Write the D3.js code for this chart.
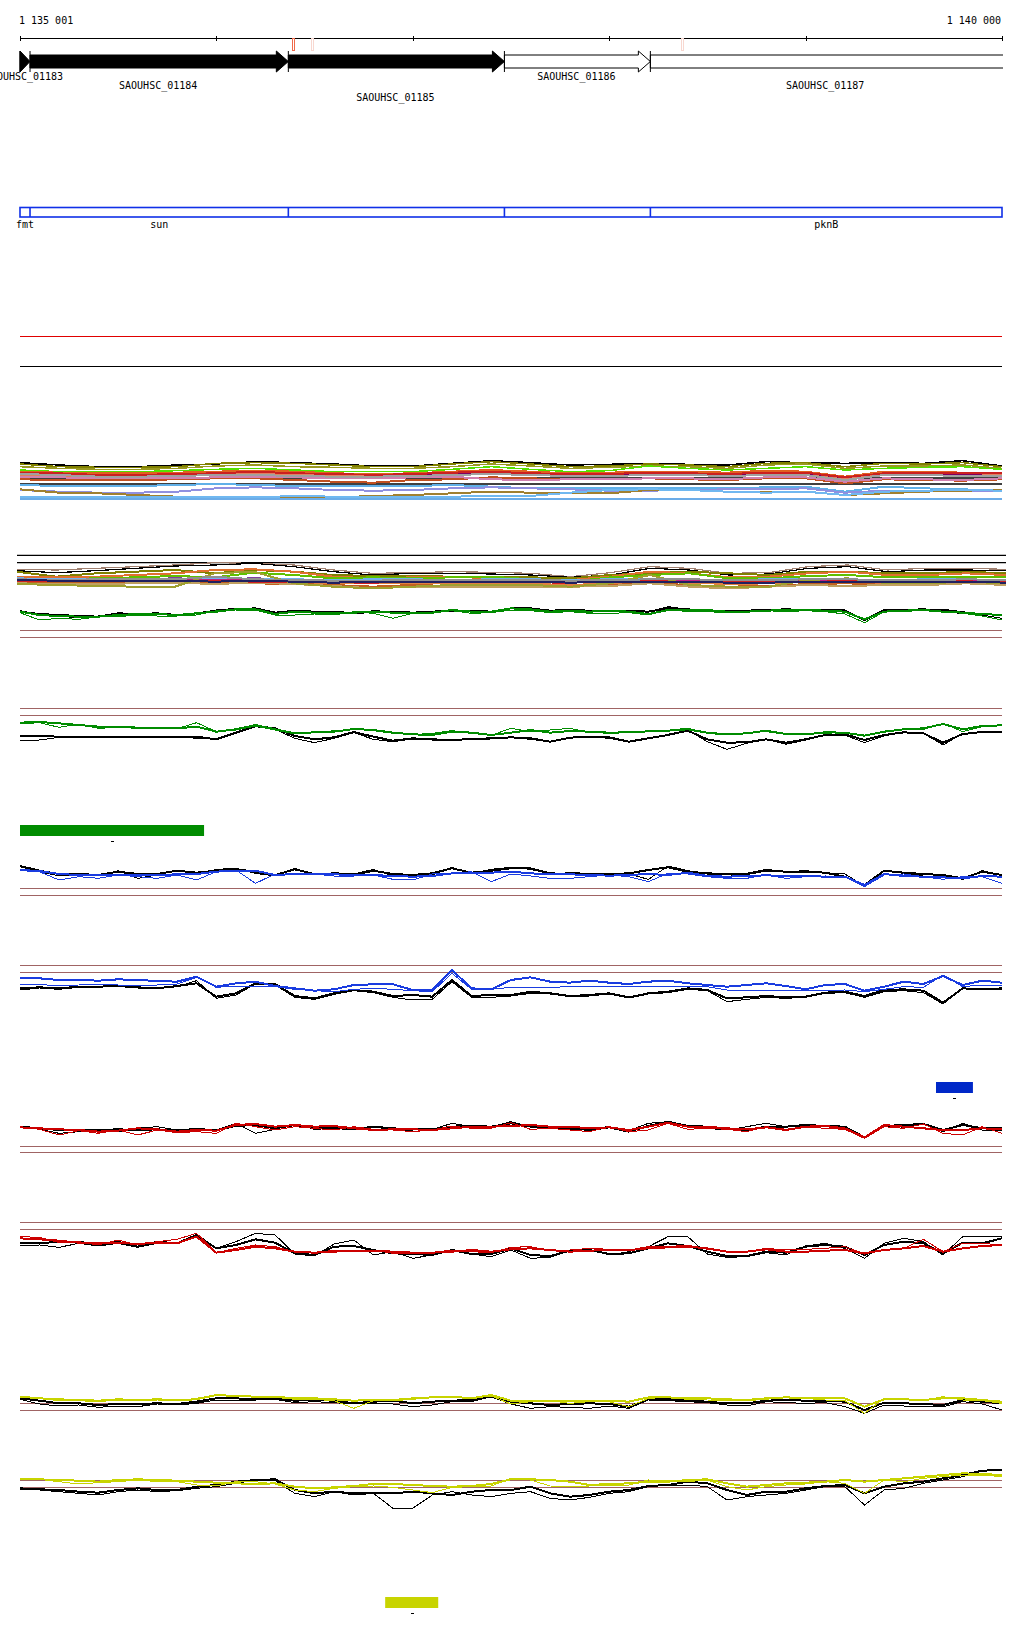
<!DOCTYPE html>
<html>
  <head>
    <meta charset="utf-8">
    <title>Genome browser</title>
    <style>
      body { margin: 0; background: #fff; }
      text { font-family: "DejaVu Sans Mono", monospace; font-size: 10px; fill: #000; }
    </style>
  </head>
  <body>
    <div id="browser"></div>
    <script src="https://d3js.org/d3.v7.min.js"></script>
    <script>

      // region shown
      var regionStart = 1135001,
          regionEnd   = 1140000;

      // genes
      var geneIds    = ["SAOUHSC_01183", "SAOUHSC_01184", "SAOUHSC_01185", "SAOUHSC_01186", "SAOUHSC_01187"];
      var geneNames  = ["fmt", "sun", "", "", "pknB"];
      var geneStart  = [1135001, 1135052, 1136367, 1137467, 1138210];
      var geneEnd    = [1135052, 1136367, 1137467, 1138210, 1141000];
      var geneFilled = [true, true, true, false, false];

      // small variant marks under the ruler
      var markPos    = [1136386, 1136483, 1138366];
      var markColor  = ["#f06a4a", "#f8d8d0", "#f8d8d0"];

      // sample positions (bp)
      var pos100 = d3.range(regionStart - 1, regionEnd + 1, 100);
      var pos200 = d3.range(regionStart - 1, regionEnd + 1, 200);

      // ---- band track A (many samples, every 200 bp)
      var bandAColors = ["#000000", "#808000", "#9a9a20", "#55e000", "#e06020", "#800060", "#cc2020", "#e08060",
                         "#c05020", "#d080b0", "#a0a0a0", "#60b0e8", "#9090e0", "#a08030", "#70b8f0"];
      var bandAValues = [
        [428,435,440,440,435,432,425,428,432,438,438,430,422,428,435,433,430,433,435,425,428,430,428,430,422,438],
        [432,440,442,442,440,430,428,430,435,440,440,432,425,432,440,438,432,435,440,430,428,440,430,432,428,440],
        [440,445,448,448,445,438,435,440,442,445,445,440,432,438,445,442,438,440,445,435,432,445,438,438,435,445],
        [450,455,455,455,452,448,445,450,455,455,455,448,440,448,455,452,438,445,450,445,440,450,445,442,440,448],
        [455,458,460,460,458,455,452,455,460,462,460,455,450,455,460,458,455,455,458,452,455,470,455,455,458,458],
        [460,462,468,470,468,462,460,465,468,470,465,462,458,462,465,465,462,462,465,460,462,475,462,462,465,462],
        [458,460,465,465,462,460,455,460,462,465,462,458,455,460,462,462,458,460,462,458,458,472,460,458,460,460],
        [465,468,470,470,468,465,462,465,468,470,468,465,462,465,468,468,465,465,468,465,465,478,465,465,468,465],
        [478,480,480,480,478,475,475,480,485,488,480,478,472,475,478,478,475,478,480,475,475,490,478,480,482,478],
        [470,472,475,475,475,472,470,472,475,475,472,470,478,480,478,478,475,475,478,472,472,485,475,478,480,475],
        [462,465,470,470,468,465,465,468,470,470,468,465,462,465,468,468,465,465,468,465,465,480,465,465,468,468],
        [495,498,498,498,495,492,495,498,498,498,498,495,500,505,505,505,505,505,505,502,500,515,500,505,508,512],
        [510,515,518,518,515,505,502,505,510,512,510,505,502,505,508,512,512,510,508,508,505,518,512,515,512,512],
        [508,518,520,525,530,532,530,530,532,528,525,520,515,518,518,520,510,510,515,515,515,525,520,515,512,510],
        [530,532,532,530,532,530,532,528,530,530,530,530,528,528,518,510,508,510,515,518,515,525,515,512,510,512]
      ];
      var bandAFlat = [474, 492, 537];

      // ---- band track B
      var bandBColors = ["#a08070", "#000000", "#808000", "#e07030", "#60c000", "#8040a0", "#70b0f0", "#e08040",
                         "#c06020", "#c0a060", "#c02080", "#d02020", "#a0a030", "#909090", "#202060"];
      var bandBValues = [
        [88,90,85,80,75,68,70,75,90,100,98,95,97,100,110,98,80,85,100,98,80,75,90,85,85,88],
        [92,98,92,85,78,75,70,80,95,105,100,100,102,105,112,105,85,90,105,102,85,80,95,90,90,92],
        [95,110,100,95,90,100,90,95,105,108,108,110,110,112,115,105,100,95,100,105,95,95,100,100,95,100],
        [110,112,110,105,100,90,88,95,110,115,112,110,115,118,120,110,95,100,112,110,100,95,105,105,100,105],
        [115,118,115,112,108,112,98,105,115,112,115,112,110,118,125,112,105,100,115,115,108,105,112,110,112,112],
        [118,120,120,118,115,118,115,118,120,122,120,120,122,122,125,120,118,118,122,120,118,118,120,118,120,122],
        [115,118,118,118,118,115,118,118,120,118,118,120,118,118,120,118,118,118,120,118,118,118,120,118,118,120],
        [125,128,128,125,120,125,125,128,130,130,128,130,130,132,135,130,125,128,132,130,125,128,130,128,125,128],
        [128,130,130,128,125,128,130,132,135,140,135,138,138,140,140,135,130,135,140,138,132,130,135,130,128,130],
        [130,132,132,130,128,132,128,132,138,145,140,140,142,142,140,138,130,140,145,140,135,138,135,135,130,135],
        [120,122,122,122,120,120,122,122,125,125,122,122,125,125,125,122,122,122,125,125,122,122,122,122,122,125],
        [122,124,124,124,122,122,125,125,127,128,125,125,127,127,128,125,124,125,127,127,125,124,125,125,124,127],
        [132,135,138,140,140,100,95,130,140,145,140,135,135,135,140,130,105,135,140,140,120,115,130,130,125,130],
        [118,120,118,118,118,110,118,120,122,122,120,120,120,120,122,120,118,118,120,120,118,118,120,120,118,120],
        [120,122,122,122,122,125,122,125,128,125,125,125,125,125,128,125,125,125,128,128,125,125,125,125,125,128]
      ];
      var bandBFlat = [46, 68];

      // ---- paired tracks (every 100 bp): colour thick / thin, black thick / thin
      var bGreen1 = [215,225,228,230,230,225,222,222,225,220,215,208,208,222,215,218,220,218,215,218,220,218,210,215,215,205,208,215,212,215,212,215,222,210,210,210,215,215,212,210,210,212,215,238,215,212,210,215,218,222,225];
      var bGreen2 = [218,240,235,238,230,230,225,228,228,225,212,210,210,225,225,222,225,215,220,235,220,218,212,220,218,210,212,218,215,220,220,218,225,208,215,215,218,215,212,215,212,215,222,248,215,215,210,215,220,228,240];
      var bBlack1 = [215,222,225,228,230,220,222,220,225,220,212,208,205,218,212,215,215,220,215,215,218,215,212,212,215,205,205,212,210,212,212,212,215,205,208,212,212,212,210,208,210,210,212,240,210,210,208,212,220,222,225];
      var bBlack2 = [212,225,230,232,228,222,220,222,228,220,210,205,205,218,210,215,218,220,212,215,218,215,212,212,218,205,205,212,208,212,212,212,215,200,208,210,212,210,210,208,210,208,210,242,210,210,208,208,215,225,235];

      var cGreen1 = [68,66,70,75,80,80,83,85,85,80,95,88,75,88,100,97,95,87,90,98,103,105,95,98,105,98,90,98,93,95,98,97,94,92,88,98,103,100,92,102,103,97,98,107,95,88,85,72,88,78,76];
      var cGreen2 = [72,68,82,72,85,82,85,86,86,68,95,90,78,90,102,98,92,88,92,100,104,100,92,100,106,85,95,90,85,97,100,98,95,92,84,100,105,98,95,103,103,100,97,106,97,86,88,70,95,80,76];
      var cBlack1 = [108,108,110,110,112,110,111,112,110,110,118,98,78,85,108,118,112,96,110,122,115,118,120,117,115,112,115,125,113,110,112,125,115,105,92,118,128,127,118,128,118,105,103,120,105,97,100,128,102,96,96];
      var cBlack2 = [123,120,112,112,112,112,112,112,110,115,118,100,80,88,115,128,115,98,118,125,117,120,120,118,117,112,118,125,113,110,115,126,115,103,90,125,148,130,118,133,120,105,105,128,108,97,100,135,100,98,98];

      var dBlue1  = [60,63,72,75,75,75,75,75,73,72,65,62,62,75,72,72,73,75,75,78,80,78,70,68,68,65,70,73,73,75,77,75,72,75,68,78,80,78,76,78,78,80,80,105,72,78,80,82,85,78,80];
      var dBlue2  = [62,65,90,80,85,75,80,85,75,90,65,60,100,72,75,72,78,78,75,88,90,72,70,65,95,72,78,85,85,80,75,80,95,70,72,80,85,85,75,85,80,78,80,110,75,72,80,88,80,80,100];
      var dBlack1 = [48,62,72,72,75,65,72,72,62,68,62,58,65,75,58,72,72,75,62,72,75,70,55,68,62,55,55,70,72,72,72,70,60,52,65,70,72,72,62,65,65,68,80,105,62,68,72,75,85,65,75];
      var dBlack2 = [50,65,78,72,78,62,85,75,60,75,58,55,70,78,55,75,68,72,58,78,82,75,52,72,58,52,58,72,68,70,75,72,88,48,62,72,80,70,58,65,62,68,72,108,62,70,78,78,88,62,75];

      var eBlue1  = [55,55,60,60,62,58,60,63,65,50,80,70,65,78,85,92,88,75,73,73,90,90,30,85,88,60,52,65,68,62,68,72,65,62,70,75,80,75,70,78,88,75,72,92,80,65,72,48,75,62,68];
      var eBlue2  = [73,73,78,75,73,75,75,75,72,52,82,78,80,80,88,92,95,88,85,88,92,95,40,88,88,82,82,82,80,80,80,80,80,78,78,80,90,92,92,92,92,92,90,95,88,80,82,45,80,75,75];
      var eBlack1 = [85,82,85,80,80,78,82,85,78,70,110,100,70,72,108,115,100,90,95,108,105,110,60,108,105,105,95,100,108,105,100,112,100,95,85,90,115,112,108,112,110,98,95,108,90,88,92,128,85,88,85];
      var eBlack2 = [90,84,88,82,80,78,84,86,80,62,115,105,72,75,112,118,103,92,98,112,120,118,65,112,112,108,100,102,110,108,102,114,102,98,88,92,125,118,112,115,112,100,98,112,95,92,98,132,85,90,88];

      var fRed1   = [142,145,148,150,155,152,145,148,155,150,152,135,132,140,135,140,138,145,150,148,148,150,145,140,140,138,135,140,140,145,142,150,140,128,140,140,145,148,142,150,140,138,145,172,135,140,145,150,150,145,148];
      var fRed2   = [140,148,165,152,160,150,165,150,158,155,160,130,140,150,140,145,150,140,148,150,155,150,138,145,145,128,148,145,150,155,140,155,150,130,148,145,148,155,140,148,140,145,148,175,140,145,132,160,165,140,160];
      var fBlack1 = [140,145,150,152,150,148,150,148,152,148,150,138,135,145,135,142,142,148,140,145,148,148,140,138,140,130,140,142,145,150,142,155,138,125,138,140,145,150,140,140,135,138,140,172,138,135,132,150,135,145,145];
      var fBlack2 = [138,148,160,155,148,155,145,140,150,145,150,130,160,148,132,148,145,150,140,150,150,148,130,140,140,125,140,145,148,145,140,152,130,125,140,145,150,140,130,140,135,140,145,175,135,142,130,155,130,150,150];

      var gRed1   = [115,118,122,128,130,128,132,128,130,110,158,150,140,145,155,158,155,152,152,155,158,158,155,150,155,148,145,150,155,152,150,150,145,142,140,145,155,155,148,155,155,152,150,160,150,145,138,155,145,138,135];
      var gRed2   = [110,112,128,125,135,120,135,125,118,100,158,145,135,140,155,160,150,150,150,160,160,158,150,155,158,142,140,152,150,145,148,150,140,140,135,148,155,155,145,150,148,145,140,162,148,145,118,155,130,130,135];
      var gBlack1 = [130,130,125,125,135,125,140,125,130,105,145,135,118,128,160,165,140,138,150,160,162,165,150,162,162,145,165,168,152,150,162,160,145,130,138,155,168,168,155,158,140,135,140,165,135,125,130,160,128,130,115];
      var gBlack2 = [138,135,142,130,138,130,142,130,130,105,145,125,100,105,162,168,132,120,165,155,175,165,148,162,170,150,175,172,152,148,165,155,140,110,110,162,172,170,158,165,138,130,145,175,130,115,125,165,110,110,108];

      var hYel1   = [50,55,58,60,62,58,60,58,60,58,45,48,50,50,55,55,58,62,60,60,55,52,50,55,45,62,62,62,62,62,62,65,52,52,55,55,58,60,55,52,55,55,55,80,58,58,60,55,55,60,65];
      var hYel2   = [48,55,62,62,65,60,62,60,62,55,45,48,52,52,58,58,62,85,62,62,58,52,52,55,48,72,65,62,70,65,65,80,55,52,58,60,62,62,58,50,55,60,62,100,55,58,62,50,60,62,70];
      var hBlack1 = [55,62,70,70,75,72,72,70,72,65,55,55,58,55,62,60,62,70,65,62,70,65,62,60,50,65,70,75,72,70,72,80,58,58,62,65,70,70,62,60,62,62,65,90,68,70,72,75,60,65,70];
      var hBlack2 = [58,72,78,75,82,78,80,72,75,70,60,60,60,58,68,65,68,72,70,72,80,75,65,65,50,72,85,80,82,85,78,85,60,62,65,68,75,78,65,68,70,68,80,100,75,78,80,80,65,72,90];

      var iYel1   = [298,298,300,302,305,300,298,300,302,305,308,310,312,310,320,325,322,318,312,312,315,318,320,318,312,298,298,300,305,315,312,310,305,305,300,298,310,320,315,310,308,305,300,305,300,295,290,285,280,282,285];
      var iYel2   = [300,298,305,312,308,305,300,305,305,315,318,305,305,312,330,335,325,320,318,322,330,338,322,320,318,295,300,318,320,318,315,315,300,302,305,300,320,330,320,315,312,305,310,340,300,305,295,290,285,285,290];
      var iBlack1 = [325,328,330,335,338,330,325,330,330,320,315,305,300,298,330,340,335,340,338,340,335,340,345,335,330,330,320,340,350,345,335,330,318,315,305,310,330,345,335,335,325,318,315,340,320,310,305,295,285,272,270];
      var iBlack2 = [328,330,335,340,345,335,330,335,332,325,320,310,300,302,340,350,335,345,340,385,385,345,335,345,350,340,335,355,360,352,340,335,320,315,315,320,360,350,345,340,330,320,320,375,330,325,310,300,290,270,270];

      // reference rules (brown) and legend bars
      var ruleRows   = [630, 637, 708, 715, 888, 895, 965, 972, 1146, 1152, 1222, 1229, 1403, 1410, 1480, 1487];
      var legendFrom = [1135001, 1139664, 1136860];
      var legendTo   = [1135938, 1139852, 1137130];
      var legendCol  = ["#008c00", "#0028c8", "#c8d400"];
      var legendTop  = [825, 1082, 1597];

      var width = 1024, height = 1640;
      var svg = d3.select("#browser").append("svg")
                  .attr("width", width)
                  .attr("height", height);

      var x = d3.scaleLinear().domain([regionStart, regionEnd]).range([20, 1002]);

      svg.append("clipPath").attr("id", "clip")
         .append("rect").attr("x", 0).attr("y", 0).attr("width", 1003).attr("height", height);

      // ruler
      svg.append("line").attr("x1", x(regionStart)).attr("x2", x(regionEnd))
         .attr("y1", 38.5).attr("y2", 38.5).attr("stroke", "#000");
      var tickPos = [regionStart].concat(d3.range(1136000, regionEnd + 1, 1000));
      svg.selectAll(".tick").data(tickPos).enter().append("line")
         .attr("x1", function(d){ return Math.round(x(d)) + 0.5 })
         .attr("x2", function(d){ return Math.round(x(d)) + 0.5 })
         .attr("y1", 36).attr("y2", 41).attr("stroke", "#000");
      svg.append("text").attr("x", 19).attr("y", 24).text("1 135 001");
      svg.append("text").attr("x", 1001).attr("y", 24).attr("text-anchor", "end").text("1 140 000");

      svg.selectAll(".mark").data(markPos).enter().append("rect")
         .attr("x", function(d){ return Math.round(x(d)) + 0.5 })
         .attr("y", 38.5).attr("width", 2).attr("height", 12)
         .attr("fill", "#fff")
         .attr("stroke", function(d,i){ return markColor[i] });

      // gene arrows
      var garr = svg.append("g").attr("clip-path", "url(#clip)");
      geneIds.forEach(function(id, i){
        var x0 = x(geneStart[i]), x1 = x(geneEnd[i]);
        var hx = Math.max(x0, x1 - 12);
        var pts = [[x0,55],[hx,55],[hx,51],[x1,61.5],[hx,72],[hx,68],[x0,68]];
        garr.append("polygon")
            .attr("points", pts.map(function(p){ return p.join(",") }).join(" "))
            .attr("fill", geneFilled[i] ? "#000" : "#fff")
            .attr("stroke", "#000").attr("stroke-width", 1);
        garr.append("line").attr("x1", x0).attr("x2", x0).attr("y1", 51).attr("y2", 72)
            .attr("stroke", "#000");
      });

      // gene labels, staggered on three rows (first one runs off the left edge as in the original)
      var labelBase = [80, 89, 101];
      svg.selectAll(".glabel").data(geneIds).enter().append("text")
         .attr("x", function(d,i){ return (x(geneStart[i]) + Math.min(x(geneEnd[i]), 1002)) / 2 - 1 })
         .attr("y", function(d,i){ return labelBase[i % 3] })
         .attr("text-anchor", "middle")
         .text(function(d){ return d });

      // named gene track
      svg.append("rect").attr("x", 20).attr("y", 207.5).attr("width", 982).attr("height", 9.5)
         .attr("fill", "none").attr("stroke", "#1030e8").attr("stroke-width", 1.6);
      svg.selectAll(".gdiv").data(geneStart.slice(1)).enter().append("line")
         .attr("x1", function(d){ return x(d) }).attr("x2", function(d){ return x(d) })
         .attr("y1", 207).attr("y2", 217).attr("stroke", "#1030e8").attr("stroke-width", 1.6);
      svg.selectAll(".gname").data(geneNames).enter().append("text")
         .attr("x", function(d,i){ return (x(geneStart[i]) + Math.min(x(geneEnd[i]), 1002)) / 2 })
         .attr("y", 228).attr("text-anchor", "middle")
         .text(function(d){ return d });

      // track A frame lines
      svg.append("line").attr("x1", 20).attr("x2", 1002).attr("y1", 336.5).attr("y2", 336.5).attr("stroke", "#e00000");
      svg.append("line").attr("x1", 20).attr("x2", 1002).attr("y1", 366.5).attr("y2", 366.5).attr("stroke", "#000");

      function drawLine(g, xs, vals, yScale, color, w) {
        var line = d3.line().x(function(d,i){ return xs(i) }).y(function(d){ return yScale(d) });
        g.append("path").attr("d", line(vals))
         .attr("fill", "none").attr("stroke", color).attr("stroke-width", w)
         .attr("stroke-linejoin", "miter").style("shape-rendering", "crispEdges");
      }

      // band A
      var yA = d3.scaleLinear().domain([0, 300]).range([320, 420]);
      var gA = svg.append("g");
      var xA = function(i){ return x(pos200[i]) };
      bandAFlat.forEach(function(v, k){
        gA.append("line").attr("x1", 20).attr("x2", 1002).attr("y1", yA(v)).attr("y2", yA(v))
          .attr("stroke", k == 2 ? "#3a90e0" : "#000").attr("stroke-width", 1.5);
      });
      bandAValues.forEach(function(v, k){
        drawLine(gA, xA, v, yA, bandAColors[k], k < 4 ? 1.5 : 2);
      });

      // band B (slightly wider)
      var xB = d3.scaleLinear().domain([regionStart, regionEnd]).range([17, 1006]);
      var yB = d3.scaleLinear().domain([0, 300]).range([540, 640]);
      var gB = svg.append("g");
      bandBFlat.forEach(function(v){
        gB.append("line").attr("x1", 17).attr("x2", 1006).attr("y1", yB(v)).attr("y2", yB(v))
          .attr("stroke", "#000").attr("stroke-width", 1.2);
      });
      bandBValues.forEach(function(v, k){
        drawLine(gB, function(i){ return xB(pos200[i]) }, v, yB, bandBColors[k], k < 2 ? 1.2 : 2);
      });

      // brown rules
      svg.selectAll(".rule").data(ruleRows).enter().append("line")
         .attr("x1", 20).attr("x2", 1002)
         .attr("y1", function(d){ return d + 0.5 }).attr("y2", function(d){ return d + 0.5 })
         .attr("stroke", "#a06464");

      // paired tracks
      var pairs = [
        {top: 540,  color: "#008c00", c1: bGreen1, c2: bGreen2, k1: bBlack1, k2: bBlack2},
        {top: 700,  color: "#008c00", c1: cGreen1, c2: cGreen2, k1: cBlack1, k2: cBlack2},
        {top: 850,  color: "#1a3ce0", c1: dBlue1,  c2: dBlue2,  k1: dBlack1, k2: dBlack2},
        {top: 960,  color: "#1a3ce0", c1: eBlue1,  c2: eBlue2,  k1: eBlack1, k2: eBlack2},
        {top: 1080, color: "#cc0000", c1: fRed1,   c2: fRed2,   k1: fBlack1, k2: fBlack2},
        {top: 1200, color: "#cc0000", c1: gRed1,   c2: gRed2,   k1: gBlack1, k2: gBlack2},
        {top: 1380, color: "#c8d400", c1: hYel1,   c2: hYel2,   k1: hBlack1, k2: hBlack2},
        {top: 1380, color: "#c8d400", c1: iYel1,   c2: iYel2,   k1: iBlack1, k2: iBlack2}
      ];
      var xP = function(i){ return x(Math.max(pos100[i], regionStart)) };
      pairs.forEach(function(p){
        var yP = d3.scaleLinear().domain([0, 300]).range([p.top, p.top + 100]);
        var g = svg.append("g");
        drawLine(g, xP, p.k2, yP, "#000", 1);
        drawLine(g, xP, p.k1, yP, "#000", 2);
        drawLine(g, xP, p.c2, yP, p.color, 1);
        drawLine(g, xP, p.c1, yP, p.color, 2);
      });

      // legend bars
      legendFrom.forEach(function(d, i){
        svg.append("rect").attr("x", x(d)).attr("y", legendTop[i])
           .attr("width", x(legendTo[i]) - x(d)).attr("height", 11)
           .attr("fill", legendCol[i]);
        svg.append("line")
           .attr("x1", Math.round((x(d) + x(legendTo[i])) / 2) - 1)
           .attr("x2", Math.round((x(d) + x(legendTo[i])) / 2) + 2)
           .attr("y1", legendTop[i] + 16.5).attr("y2", legendTop[i] + 16.5)
           .attr("stroke", "#000");
      });

    </script>
  </body>
</html>
